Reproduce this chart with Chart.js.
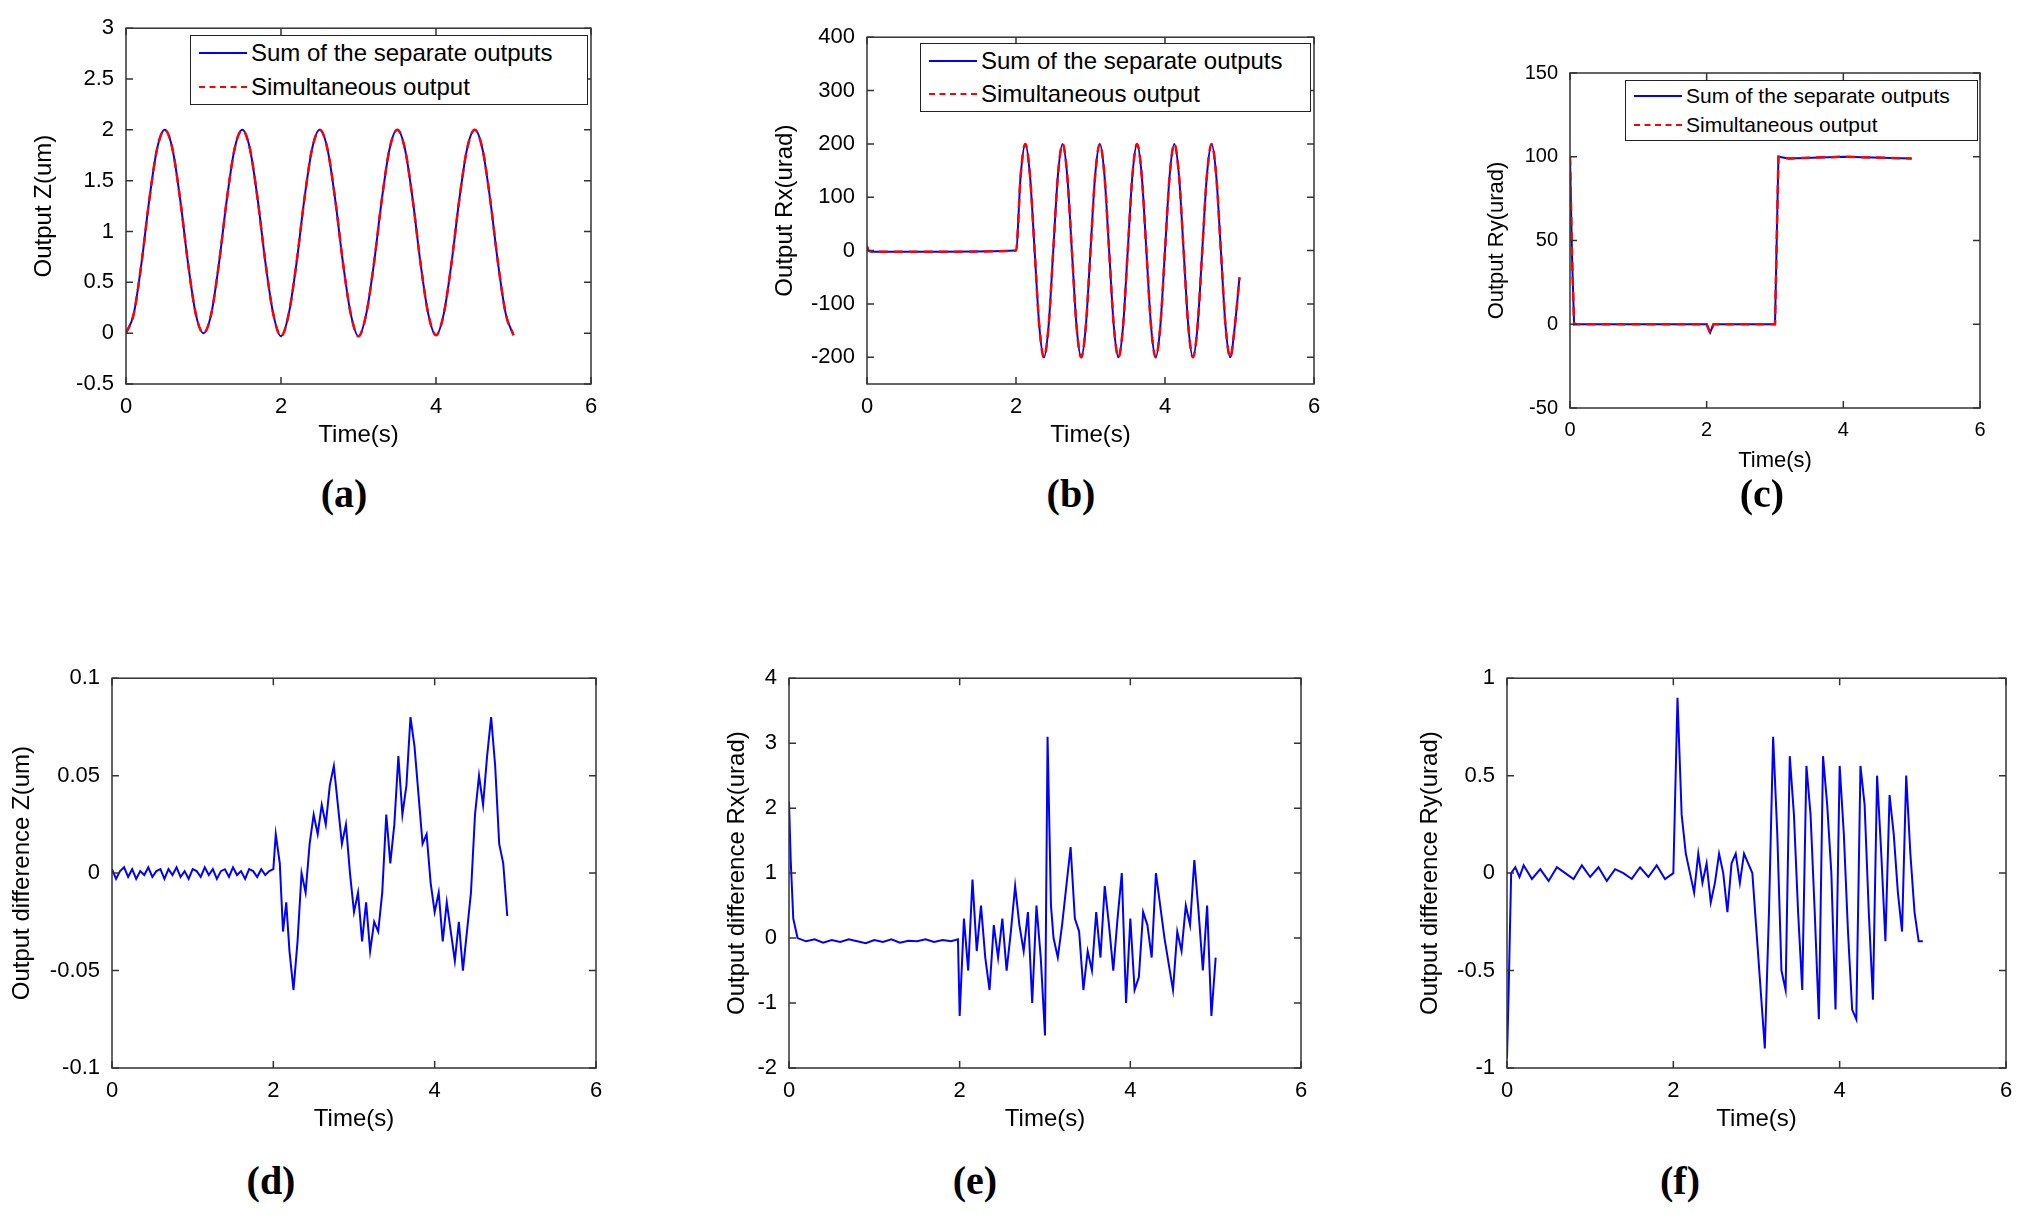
<!DOCTYPE html>
<html><head><meta charset="utf-8">
<script src="https://cdn.jsdelivr.net/npm/chart.js@4"></script>
<style>
body{margin:0;width:2022px;height:1226px;background:#fff;position:relative;overflow:hidden;font-family:"Liberation Sans",Arial,sans-serif}
canvas{position:absolute}
.lg{position:absolute;border:1.5px solid #222;background:#fff;font-size:24px;color:#000}
.lg div{display:flex;align-items:center;height:50%}
.lg span{display:inline-block;width:48px;margin:0 4px 0 8px;border-top:2px solid}
.pl{position:absolute;font-family:"Liberation Serif",serif;font-weight:bold;font-size:40px;transform:translateX(-50%)}
</style></head><body>
<script>
// ---- data ----
const timeA=[0,0.1,0.2,0.3,0.4,0.5,0.6,0.7,0.8,0.9,1,1.1,1.2,1.3,1.4,1.5,1.6,1.7,1.8,1.9,2,2.1,2.2,2.3,2.4,2.5,2.6,2.7,2.8,2.9,3,3.1,3.2,3.3,3.4,3.5,3.6,3.7,3.8,3.9,4,4.1,4.2,4.3,4.4,4.5,4.6,4.7,4.8,4.9,5];
const zOut=[0,0.19,0.69,1.31,1.81,2,1.81,1.31,0.69,0.19,0,0.19,0.69,1.31,1.81,2,1.81,1.31,0.69,0.19,-0.03,0.19,0.69,1.31,1.81,2,1.81,1.31,0.69,0.19,-0.03,0.19,0.69,1.31,1.81,2,1.81,1.31,0.69,0.19,-0.02,0.19,0.69,1.31,1.81,2,1.81,1.31,0.69,0.19,-0.02];
const timeB=[0,0.02,0.1,1,2,2.0625,2.125,2.1875,2.25,2.3125,2.375,2.4375,2.5,2.5625,2.625,2.6875,2.75,2.8125,2.875,2.9375,3,3.0625,3.125,3.1875,3.25,3.3125,3.375,3.4375,3.5,3.5625,3.625,3.6875,3.75,3.8125,3.875,3.9375,4,4.0625,4.125,4.1875,4.25,4.3125,4.375,4.4375,4.5,4.5625,4.625,4.6875,4.75,4.8125,4.875,4.9375,5];
const rxOut=[8,0,-2,-2,0,141,200,141,0,-141,-200,-141,0,141,200,141,0,-141,-200,-141,0,141,200,141,0,-141,-200,-141,0,141,200,141,0,-141,-200,-141,0,141,200,141,0,-141,-200,-141,0,141,200,141,0,-141,-200,-141,-50];
const timeC=[0,0.03,0.06,1,2,2.05,2.1,2.2,3,3.05,3.2,4,5];
const ryOut=[100,40,0,0,0,-5,0,0,0,100,99,100,99];
const timeD=[0,0.05,0.1,0.15,0.2,0.25,0.3,0.35,0.4,0.45,0.5,0.55,0.6,0.65,0.7,0.75,0.8,0.85,0.9,0.95,1,1.05,1.1,1.15,1.2,1.25,1.3,1.35,1.4,1.45,1.5,1.55,1.6,1.65,1.7,1.75,1.8,1.85,1.9,1.95,2,2.03,2.08,2.12,2.16,2.2,2.25,2.3,2.35,2.4,2.45,2.5,2.55,2.6,2.65,2.7,2.75,2.8,2.85,2.9,2.95,3,3.05,3.1,3.15,3.2,3.25,3.3,3.35,3.4,3.45,3.5,3.55,3.6,3.65,3.7,3.75,3.8,3.85,3.9,3.95,4,4.05,4.1,4.15,4.2,4.25,4.3,4.35,4.4,4.45,4.5,4.55,4.6,4.65,4.7,4.75,4.8,4.85,4.9,4.95,5];
const zDiff=[0.002,-0.003,0.001,0.003,-0.002,0.002,-0.003,0.001,-0.001,0.003,-0.002,0.001,0.002,-0.003,0.002,-0.001,0.003,-0.002,0.001,-0.003,0.002,0.001,-0.002,0.003,-0.001,0.002,-0.003,0.001,0.002,-0.002,0.003,-0.001,0.001,-0.003,0.002,0.001,-0.002,0.002,-0.001,0.001,0.002,0.02,0.005,-0.03,-0.015,-0.04,-0.06,-0.035,0.0,-0.01,0.015,0.03,0.02,0.035,0.025,0.045,0.055,0.035,0.015,0.025,0.0,-0.02,-0.01,-0.035,-0.015,-0.04,-0.025,-0.03,-0.01,0.03,0.005,0.025,0.06,0.03,0.045,0.08,0.065,0.04,0.015,0.02,-0.005,-0.02,-0.01,-0.035,-0.015,-0.03,-0.045,-0.025,-0.05,-0.03,-0.01,0.03,0.05,0.035,0.06,0.08,0.055,0.015,0.005,-0.022];
const timeE=[0,0.02,0.05,0.1,0.2,0.3,0.4,0.5,0.6,0.7,0.8,0.9,1,1.1,1.2,1.3,1.4,1.5,1.6,1.7,1.8,1.9,1.98,2.0,2.05,2.1,2.15,2.2,2.25,2.3,2.35,2.4,2.45,2.5,2.55,2.6,2.65,2.7,2.75,2.8,2.85,2.9,2.95,3.0,3.03,3.07,3.1,3.15,3.2,3.25,3.3,3.35,3.4,3.45,3.5,3.55,3.6,3.65,3.7,3.75,3.8,3.85,3.9,3.95,4.0,4.05,4.1,4.15,4.2,4.25,4.3,4.35,4.4,4.45,4.5,4.55,4.6,4.65,4.7,4.75,4.8,4.85,4.9,4.95,5];
const rxDiff=[2.1,1.2,0.3,0.0,-0.05,-0.02,-0.07,-0.03,-0.06,-0.02,-0.05,-0.08,-0.03,-0.06,-0.02,-0.07,-0.04,-0.05,-0.02,-0.06,-0.03,-0.05,-0.02,-1.2,0.3,-0.5,0.9,-0.2,0.5,-0.3,-0.8,0.2,-0.3,0.3,-0.5,0.1,0.8,0.2,-0.2,0.4,-1.0,0.5,-0.3,-1.5,3.1,0.5,0.0,-0.3,0.2,0.8,1.4,0.3,0.1,-0.8,-0.2,-0.5,0.4,-0.3,0.8,0.2,-0.5,0.3,1.0,-1.0,0.3,-0.8,-0.6,0.4,0.2,-0.3,1.0,0.5,0.0,-0.4,-0.8,0.1,-0.2,0.5,0.2,1.2,0.4,-0.5,0.5,-1.2,-0.3];
const timeF=[0,0.02,0.05,0.1,0.15,0.2,0.3,0.4,0.5,0.6,0.7,0.8,0.9,1,1.1,1.2,1.3,1.4,1.5,1.6,1.7,1.8,1.9,2.0,2.05,2.1,2.15,2.2,2.25,2.3,2.35,2.4,2.45,2.5,2.55,2.6,2.65,2.7,2.75,2.8,2.85,2.9,2.95,3.0,3.05,3.1,3.15,3.2,3.25,3.3,3.35,3.4,3.45,3.5,3.55,3.6,3.65,3.7,3.75,3.8,3.85,3.9,3.95,4.0,4.05,4.1,4.15,4.2,4.25,4.3,4.35,4.4,4.45,4.5,4.55,4.6,4.65,4.7,4.75,4.8,4.85,4.9,4.95,5];
const ryDiff=[-0.95,-0.6,0.0,0.03,-0.02,0.04,-0.03,0.02,-0.04,0.03,0.0,-0.03,0.04,-0.02,0.03,-0.04,0.02,0.0,-0.03,0.03,-0.02,0.04,-0.03,0.0,0.9,0.3,0.1,0.0,-0.1,0.1,-0.05,0.05,-0.15,-0.05,0.1,0.0,-0.2,0.05,0.1,-0.05,0.1,0.05,0.0,-0.3,-0.6,-0.9,-0.2,0.7,0.2,-0.5,-0.6,0.6,0.3,-0.2,-0.6,0.55,0.3,-0.2,-0.75,0.6,0.35,0.0,-0.7,0.55,0.2,-0.3,-0.7,-0.75,0.55,0.35,-0.2,-0.65,0.5,0.1,-0.35,0.4,0.2,-0.1,-0.3,0.5,0.1,-0.2,-0.35,-0.35];
const xTicks=[0,2,4,6];

// ---- plugin: box + inward ticks ----
const boxPlugin={id:'box',afterDraw(c){const a=c.chartArea,g=c.ctx;g.save();g.strokeStyle='#333';g.lineWidth=1.5;g.strokeRect(a.left,a.top,a.right-a.left,a.bottom-a.top);
 const L=7;
 c.scales.x.ticks.forEach((t,i)=>{const p=c.scales.x.getPixelForTick(i);g.beginPath();g.moveTo(p,a.bottom);g.lineTo(p,a.bottom-L);g.moveTo(p,a.top);g.lineTo(p,a.top+L);g.stroke();});
 c.scales.y.ticks.forEach((t,i)=>{const p=c.scales.y.getPixelForTick(i);g.beginPath();g.moveTo(a.left,p);g.lineTo(a.left+L,p);g.moveTo(a.right,p);g.lineTo(a.right-L,p);g.stroke();});
 g.restore();}};

function pts(xs,ys){return xs.map((x,i)=>({x:x,y:ys[i]}));}
function make(o){
 const Ly=o.ly,Lx=70,pt=15,pr=25;
 const cv=document.createElement('canvas');
 const W=o.r-o.l+Ly+pr,H=o.b-o.t+pt+Lx;
 cv.style.left=(o.l-Ly)+'px';cv.style.top=(o.t-pt)+'px';cv.style.width=W+'px';cv.style.height=H+'px';
 cv.width=W;cv.height=H;document.body.appendChild(cv);
 const mode=o.smooth?'monotone':'default';
 const ds=[];
 if(o.dash) ds.push({data:pts(o.xs,o.ys),borderColor:'#ff0000',borderWidth:2.5,borderDash:[9,6],pointRadius:0,cubicInterpolationMode:mode,tension:o.smooth?0.4:0});
 ds.push({data:pts(o.xs,o.ys),borderColor:'#0000ff',borderWidth:2,pointRadius:0,cubicInterpolationMode:mode,tension:o.smooth?0.4:0});
 new Chart(cv,{type:'line',data:{datasets:ds},plugins:[boxPlugin],options:{responsive:false,animation:false,
  layout:{padding:{top:pt,right:pr,left:0,bottom:0}},plugins:{legend:{display:false},tooltip:{enabled:false}},
  scales:{x:{type:'linear',min:0,max:6,afterBuildTicks:s=>{s.ticks=xTicks.map(v=>({value:v}));},afterFit:s=>{s.height=Lx;},grid:{display:false},border:{display:false},
    ticks:{color:'#000',font:{size:o.fs,family:'Liberation Sans'},padding:2,maxRotation:0,callback:v=>String(v)},
    title:{display:true,text:'Time(s)',color:'#000',font:{size:o.fs+2,family:'Liberation Sans'},padding:{top:0}}},
   y:{min:o.ymin,max:o.ymax,afterBuildTicks:s=>{s.ticks=o.yt.map(v=>({value:v}));},afterFit:s=>{s.width=Ly;},grid:{display:false},border:{display:false},
    ticks:{color:'#000',font:{size:o.fs,family:'Liberation Sans'},padding:4,callback:v=>String(v)},
    title:{display:true,text:o.yl,color:'#000',font:{size:o.fs+2,family:'Liberation Sans'},padding:{bottom:2}}}}}});
}
make({l:126,r:591,t:26,b:384,ly:100,xs:timeA,ys:zOut,smooth:true,dash:true,ymin:-0.5,ymax:3,yt:[-0.5,0,0.5,1,1.5,2,2.5,3],yl:'Output Z(um)',fs:22});
make({l:867,r:1314,t:35,b:384,ly:100,xs:timeB,ys:rxOut,smooth:true,dash:true,ymin:-250,ymax:400,yt:[-200,-100,0,100,200,300,400],yl:'Output Rx(urad)',fs:22});
make({l:1570,r:1980,t:72,b:408,ly:90,xs:timeC,ys:ryOut,dash:true,ymin:-50,ymax:150,yt:[-50,0,50,100,150],yl:'Output Ry(urad)',fs:20});
make({l:112,r:596,t:676,b:1068,ly:108,xs:timeD,ys:zDiff,ymin:-0.1,ymax:0.1,yt:[-0.1,-0.05,0,0.05,0.1],yl:'Output difference Z(um)',fs:22});
make({l:789,r:1301,t:676,b:1068,ly:70,xs:timeE,ys:rxDiff,ymin:-2,ymax:4,yt:[-2,-1,0,1,2,3,4],yl:'Output difference Rx(urad)',fs:22});
make({l:1507,r:2006,t:676,b:1068,ly:95,xs:timeF,ys:ryDiff,ymin:-1,ymax:1,yt:[-1,-0.5,0,0.5,1],yl:'Output difference Ry(urad)',fs:22});
function legend(l,t,w,h,fs){const d=document.createElement('div');d.className='lg';Object.assign(d.style,{left:l+'px',top:t+'px',width:w+'px',height:h+'px',fontSize:fs+'px'});
 d.innerHTML='<div><span style="border-color:#0000ff"></span>Sum of the separate outputs</div><div><span style="border-color:#ff0000;border-top-style:dashed"></span>Simultaneous output</div>';document.body.appendChild(d);}
legend(190,35,396,68,24);legend(920,43,389,67,24);legend(1625,80,351,59,21);
[['(a)',344,470],['(b)',1071,470],['(c)',1762,470],['(d)',271,1157],['(e)',975,1157],['(f)',1680,1157]].forEach(([s,x,y])=>{const d=document.createElement('div');d.className='pl';d.textContent=s;d.style.left=x+'px';d.style.top=y+'px';document.body.appendChild(d);});
</script>
</body></html>
